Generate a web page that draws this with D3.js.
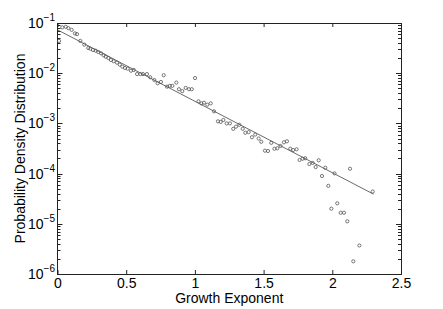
<!DOCTYPE html>
<html>
<head>
<meta charset="utf-8">
<script src="https://cdn.jsdelivr.net/npm/d3@7"></script>
<style>
  body { margin: 0; background: #fff; }
  text { font-family: "Liberation Sans", Arial, Helvetica, sans-serif; fill: #000; }
</style>
</head>
<body>
<svg id="chart"></svg>
<script>
const width = 443, height = 309
const margin = { top: 23, right: 42, bottom: 35, left: 57.5 }

// growth exponent bins
const growthX = [0.011, 0.035, 0.060, 0.079, 0.103, 0.127, 0.142, 0.166, 0.195, 0.224,
  0.239, 0.258, 0.278, 0.297, 0.317, 0.336, 0.351, 0.370, 0.389, 0.409,
  0.433, 0.453, 0.472, 0.491, 0.511, 0.535, 0.555, 0.579, 0.603, 0.622,
  0.651, 0.675, 0.705, 0.729, 0.753, 0.773, 0.797, 0.817, 0.836, 0.865,
  0.884, 0.908, 0.933, 0.957, 0.977, 1.001, 1.026, 1.047, 1.066, 1.090,
  1.115, 1.139, 1.168, 1.188, 1.207, 1.231, 1.255, 1.279, 1.299, 1.323,
  1.348, 1.367, 1.391, 1.415, 1.439, 1.464, 1.483, 1.510, 1.532, 1.556,
  1.579, 1.600, 1.623, 1.648, 1.670, 1.694, 1.715, 1.740, 1.762, 1.784,
  1.803, 1.833, 1.857, 1.879, 1.901, 1.925, 1.949, 1.971, 1.993, 2.016,
  2.036, 2.061, 2.085, 2.109, 2.129, 2.153, 2.197, 2.294]

// probability density per bin
const density = [4.4e-2, 8.2e-2, 8.4e-2, 7.9e-2, 7.3e-2, 6.2e-2, 6.0e-2, 4.4e-2, 3.7e-2, 3.18e-2,
  3.08e-2, 2.90e-2, 2.81e-2, 2.64e-2, 2.49e-2, 2.28e-2, 2.13e-2, 2.01e-2, 1.83e-2, 1.73e-2,
  1.62e-2, 1.48e-2, 1.35e-2, 1.27e-2, 1.23e-2, 1.12e-2, 1.16e-2, 9.6e-3, 9.6e-3, 9.6e-3,
  9.6e-3, 8.3e-3, 7.3e-3, 6.3e-3, 6.7e-3, 9.1e-3, 5.4e-3, 5.6e-3, 5.6e-3, 6.5e-3,
  4.8e-3, 4.4e-3, 5.1e-3, 4.8e-3, 4.8e-3, 8.0e-3, 2.75e-3, 2.51e-3, 2.58e-3, 2.36e-3,
  2.51e-3, 1.74e-3, 1.10e-3, 1.07e-3, 1.17e-3, 1.00e-3, 1.00e-3, 7.8e-4, 8.6e-4, 9.4e-4,
  7.8e-4, 6.5e-4, 6.7e-4, 5.3e-4, 6.0e-4, 5.0e-4, 4.3e-4, 2.86e-4, 2.82e-4, 4.1e-4,
  3.13e-4, 3.19e-4, 3.55e-4, 4.2e-4, 4.4e-4, 3.13e-4, 2.95e-4, 3.05e-4, 1.87e-4, 1.98e-4,
  2.02e-4, 1.55e-4, 1.63e-4, 1.35e-4, 1.84e-4, 8.95e-5, 1.31e-4, 5.7e-5, 2.0e-5, 1.01e-4,
  2.56e-5, 1.66e-5, 1.66e-5, 1.12e-5, 1.25e-4, 1.79e-6, 3.7e-6, 4.4e-5]

// straight fit in log space, end points
const fitX = [0, 2.3]
const fitY = [7.3e-2, 3.9e-5]

const xTicks = [0, 0.5, 1, 1.5, 2, 2.5]
const xTickLabels = ["0", "0.5", "1", "1.5", "2", "2.5"]
const yTicks = [1e-6, 1e-5, 1e-4, 1e-3, 1e-2, 1e-1]
const yTickExps = ["\u22126", "\u22125", "\u22124", "\u22123", "\u22122", "\u22121"]

const svg = d3.select("#chart")
    .attr("width", width)
    .attr("height", height)

const x = d3.scaleLinear()
    .domain([0, 2.5])
    .range([margin.left, width - margin.right])

const y = d3.scaleLog()
    .domain([1e-6, 1e-1])
    .range([height - margin.bottom, margin.top])

const axisColor = "#222"

// box
svg.append("rect")
    .attr("x", x(0))
    .attr("y", y(1e-1))
    .attr("width", x(2.5) - x(0))
    .attr("height", y(1e-6) - y(1e-1))
    .attr("fill", "none")
    .attr("stroke", axisColor)
    .attr("stroke-width", 1)
    .attr("shape-rendering", "crispEdges")

// x ticks, inward on bottom and top
const xb = svg.append("g")
    .attr("transform", `translate(0,${y(1e-6)})`)
    .call(d3.axisBottom(x).tickValues(xTicks).tickSize(-4).tickSizeOuter(0).tickPadding(0)
        .tickFormat((d, i) => xTickLabels[i]))
svg.append("g")
    .attr("transform", `translate(0,${y(1e-1)})`)
    .call(d3.axisTop(x).tickValues(xTicks).tickSize(-4).tickSizeOuter(0).tickFormat(""))

svg.selectAll(".domain").remove()
svg.selectAll(".tick line").attr("stroke", axisColor)
xb.selectAll("text")
    .attr("y", 14)
    .attr("dy", null)
    .attr("font-size", 14)
    .attr("fill", "#000")
    .style("font-family", "'Liberation Sans', Arial, sans-serif")

// y ticks (major + minor), inward on both sides
const allY = y.ticks()
const yg = svg.append("g").attr("stroke", axisColor).attr("stroke-width", 1)
allY.forEach(v => {
    const major = Math.abs(Math.log10(v) - Math.round(Math.log10(v))) < 1e-9
    const len = major ? 5 : 3
    const yy = Math.round(y(v)) + 0.5
    yg.append("line").attr("x1", x(0)).attr("x2", x(0) + len).attr("y1", yy).attr("y2", yy)
    yg.append("line").attr("x1", x(2.5)).attr("x2", x(2.5) - len).attr("y1", yy).attr("y2", yy)
})

// y tick labels 10^n
yTicks.forEach((v, i) => {
    const t = svg.append("text")
        .attr("x", 55)
        .attr("y", y(v) + 5)
        .attr("text-anchor", "end")
        .attr("font-size", 14)
    t.append("tspan").text("10")
    t.append("tspan").attr("dy", -7).attr("font-size", 10).text(yTickExps[i])
})

// fit line
svg.append("path")
    .datum(fitX.map((d, i) => [d, fitY[i]]))
    .attr("fill", "none")
    .attr("stroke", "#444")
    .attr("stroke-width", 0.8)
    .attr("d", d3.line().x(d => x(d[0])).y(d => y(d[1])))

// data points
svg.append("g")
    .selectAll("circle")
    .data(growthX.map((d, i) => [d, density[i]]))
    .join("circle")
    .attr("cx", d => x(d[0]))
    .attr("cy", d => y(d[1]))
    .attr("r", 1.6)
    .attr("fill", "none")
    .attr("stroke", "#555")
    .attr("stroke-width", 0.8)

// axis titles
svg.append("text")
    .attr("x", (x(0) + x(2.5)) / 2)
    .attr("y", 302.5)
    .attr("text-anchor", "middle")
    .attr("font-size", 14)
    .text("Growth Exponent")

svg.append("text")
    .attr("transform", `translate(25,${(y(1e-1) + y(1e-6)) / 2}) rotate(-90)`)
    .attr("text-anchor", "middle")
    .attr("font-size", 14)
    .text("Probability Density Distribution")
</script>
</body>
</html>
